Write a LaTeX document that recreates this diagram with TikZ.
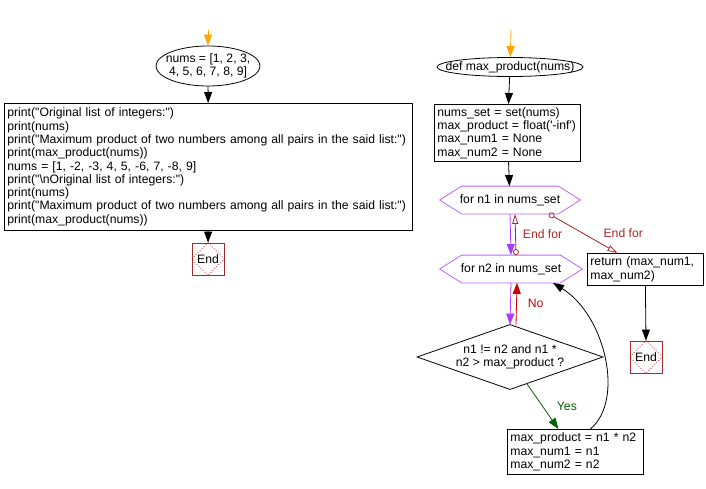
\documentclass[tikz,border=0pt]{standalone}
\usepackage{fontspec}
\setmainfont{Liberation Sans}
\usetikzlibrary{arrows.meta,shapes.geometric,calc}
\definecolor{flowor}{RGB}{255,165,0}
\definecolor{flowpur}{RGB}{170,60,255}
\definecolor{hexpur}{RGB}{190,100,255}
\definecolor{endred}{RGB}{165,42,42}
\definecolor{nored}{RGB}{204,0,0}
\definecolor{yesgreen}{RGB}{0,100,0}
\newcommand\dq{\textquotedbl}
\newcommand\sq{\textquotesingle}
\begin{document}
\begin{tikzpicture}[x=1pt,y=-1pt,
  font=\fontsize{12.2}{13.3}\selectfont,
  line width=0.8pt,
  box/.style={draw, rectangle, inner xsep=3pt, inner ysep=1pt, align=left, anchor=north west},
  ovalnode/.style={rectangle, inner sep=0pt, align=center},
  endbox/.style={draw=endred, rectangle, minimum size=32pt, inner sep=0pt},
  hexnode/.style={rectangle, inner sep=0pt, minimum height=27pt},
  shieldtip/.style={-{Triangle[length=11pt,width=8pt]}},
  barrow/.style={shieldtip},
  oarrow/.style={draw=flowor, shieldtip},
  parrow/.style={draw=flowpur, shieldtip},
  endfor/.style={draw=endred, {Circle[open,length=6pt,width=6pt]}-{Triangle[open,length=10pt,width=6pt]}},
  lbl/.style={inner sep=0pt, anchor=west}
]
\useasboundingbox[fill=white] (0,0) rectangle (706,489);

% ---------- left flow ----------
\coordinate (s1) at (208,30);
\node[ovalnode, minimum width=104pt, minimum height=40pt] (nums) at (208,66) {nums = [1, 2, 3,\\ 4, 5, 6, 7, 8, 9]};
\draw (nums.center) ellipse [x radius=52pt, y radius=20pt];
\node[box, minimum width=408pt, minimum height=127pt, text width=402pt] (code) at (4,103) {%
print(\dq Original list of integers:\dq)\\
print(nums)\\
print(\dq Maximum product of two numbers among all pairs in the said list:\dq)\\
print(max\_product(nums))\\
nums = [1, -2, -3, 4, 5, -6, 7, -8, 9]\\
print(\dq\textbackslash nOriginal list of integers:\dq)\\
print(nums)\\
print(\dq Maximum product of two numbers among all pairs in the said list:\dq)\\
print(max\_product(nums))};
\node[endbox] (end1) at (208,259) {End};
\draw[endred, dotted] (end1.north) -- (end1.east) -- (end1.south) -- (end1.west) -- cycle;

\draw[oarrow] (s1) -- (nums);
\draw[barrow] (nums) -- (code);
\draw[barrow] (code) -- (end1);

% ---------- right flow ----------
\coordinate (s2) at (511,30);
\node[ovalnode, minimum width=146pt, minimum height=19pt] (def) at (510,67) {def max\_product(nums)};
\draw (def.center) ellipse [x radius=73pt, y radius=9.5pt];
\node[box, minimum width=146pt, minimum height=57pt, text width=140pt] (init) at (434,104) {%
nums\_set = set(nums)\\
max\_product = float(\sq-inf\sq)\\
max\_num1 = None\\
max\_num2 = None};

\node[hexnode, minimum width=140pt] (h1) at (510,200) {for n1 in nums\_set};
\draw[hexpur] (h1.west) -- ([xshift=22pt]h1.north west) -- ([xshift=-22pt]h1.north east) -- (h1.east) -- ([xshift=-22pt]h1.south east) -- ([xshift=22pt]h1.south west) -- cycle;
\node[hexnode, minimum width=142pt] (h2) at (511,269) {for n2 in nums\_set};
\draw[hexpur] (h2.west) -- ([xshift=22pt]h2.north west) -- ([xshift=-22pt]h2.north east) -- (h2.east) -- ([xshift=-22pt]h2.south east) -- ([xshift=22pt]h2.south west) -- cycle;

\node[box, minimum width=116pt, minimum height=32pt, text width=110pt] (ret) at (587,253) {return (max\_num1,\\max\_num2)};
\node[endbox] (end2) at (646,357) {End};
\draw[endred, dotted] (end2.north) -- (end2.east) -- (end2.south) -- (end2.west) -- cycle;

\node[inner sep=0pt, minimum width=185pt, minimum height=64pt, align=center] (dec) at (510,357) {n1 != n2 and n1 *\\n2 > max\_product ?};
\draw (dec.north) -- (dec.east) -- (dec.south) -- (dec.west) -- cycle;

\node[box, minimum width=136pt, minimum height=45pt, text width=130pt] (res) at (507,429) {%
max\_product = n1 * n2\\
max\_num1 = n1\\
max\_num2 = n2};

\draw[oarrow] (s2) -- (def);
\draw[barrow] (def) -- (init);
\draw[barrow] (init) -- (h1);
\draw[parrow] (h1.south) -- (h2.north);
\draw[endfor] ([xshift=5pt]h2.north) -- ([xshift=5pt]h1.south)
  node[lbl, text=endred, midway, xshift=7pt] {End for};
\draw[endfor] ([xshift=39pt]h1.south) -- ([xshift=-28pt]ret.north)
  node[lbl, text=endred, midway, xshift=20pt] {End for};
\draw[barrow] (ret.south) -- (end2.north);
\draw[parrow] (h2.south) -- (dec.north);
\draw[draw=nored, shieldtip] ([xshift=6pt]dec.north) -- ([xshift=6pt]h2.south)
  node[lbl, text=nored, midway, xshift=11pt] {No};
\draw[draw=yesgreen, shieldtip] ($(dec.south)!0.18!(dec.east)$) -- ([xshift=-17pt]res.north)
  node[lbl, text=yesgreen, midway, xshift=14pt] {Yes};
\draw[barrow] ([xshift=15pt]res.north) .. controls (625,400) and (605,315) .. ([xshift=42pt]h2.south);
\end{tikzpicture}
\end{document}
